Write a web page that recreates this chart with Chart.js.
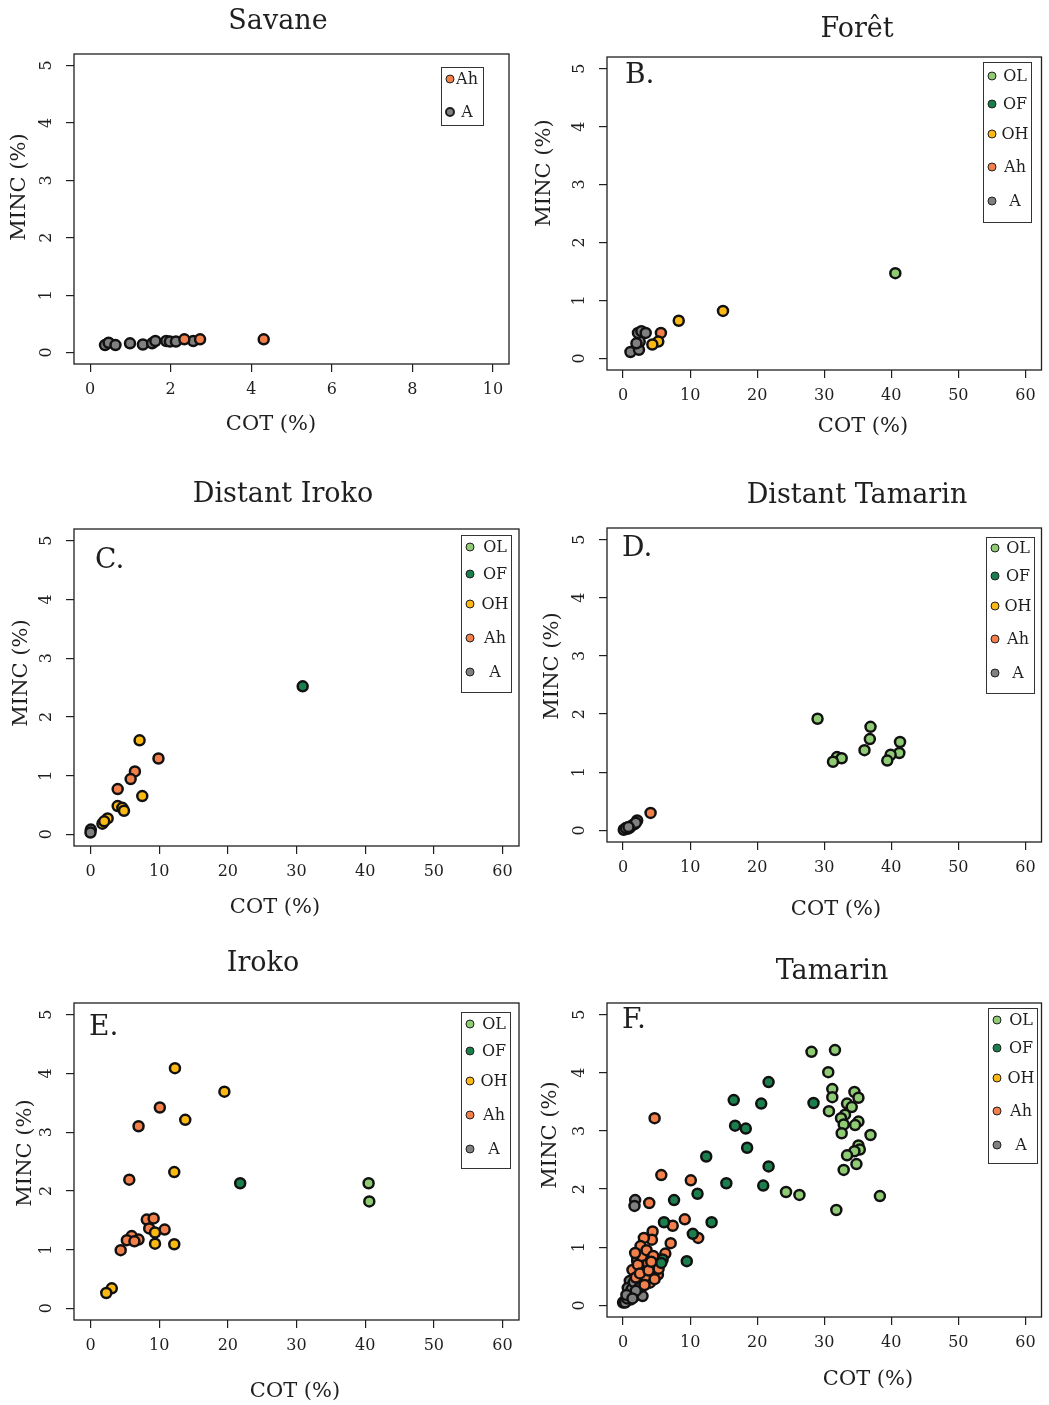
<!DOCTYPE html>
<html>
<head>
<meta charset="utf-8">
<script src="https://cdn.jsdelivr.net/npm/chart.js@4.4.0/dist/chart.umd.min.js"></script>
<style>
  body { margin: 0; background: #fff; }
  #wrap { position: relative; width: 1049px; height: 1405px; }
  canvas { position: absolute; }
</style>
</head>
<body>
<div id="wrap"></div>
<script>
// horizons, legend order
const horizons = ['OL', 'OF', 'OH', 'Ah', 'A'];
const horizonColors = { OL: '#8fcb73', OF: '#1b7f4d', OH: '#fdb913', Ah: '#f3804a', A: '#808080' };

const yTicks = [0, 1, 2, 3, 4, 5];
const xTicksSavane = [0, 2, 4, 6, 8, 10];
const xTicksWide = [0, 10, 20, 30, 40, 50, 60];

// Savane
const savaneAhCot = [2.34, 2.73, 4.31];
const savaneAhMinc = [0.23, 0.23, 0.23];
const savaneACot = [0.37, 0.46, 0.63, 0.99, 1.31, 1.54, 1.62, 1.89, 1.98, 2.13, 2.56];
const savaneAMinc = [0.13, 0.17, 0.13, 0.16, 0.14, 0.16, 0.2, 0.2, 0.19, 0.19, 0.2];

// Forêt
const foretOLCot = [40.6];
const foretOLMinc = [1.47];
const foretOHCot = [14.9, 8.3, 5.25, 4.36];
const foretOHMinc = [0.82, 0.65, 0.29, 0.24];
const foretAhCot = [5.64];
const foretAhMinc = [0.44];
const foretACot = [1.1, 2.37, 2.48, 2.22, 2.73, 3.37, 1.99];
const foretAMinc = [0.11, 0.15, 0.29, 0.44, 0.47, 0.44, 0.26];

// Distant Iroko
const dIrokoOFCot = [30.9];
const dIrokoOFMinc = [2.52];
const dIrokoOHCot = [7.15, 7.54, 3.96, 4.64, 4.88, 2.5, 1.74, 2.0];
const dIrokoOHMinc = [1.6, 0.65, 0.48, 0.45, 0.4, 0.27, 0.18, 0.22];
const dIrokoAhCot = [9.9, 6.47, 5.85, 3.96];
const dIrokoAhMinc = [1.29, 1.07, 0.94, 0.77];
const dIrokoACot = [0.05, 0.0];
const dIrokoAMinc = [0.08, 0.03];

// Distant Tamarin
const dTamOLCot = [29.0, 36.9, 36.8, 41.3, 36.0, 41.2, 39.9, 39.4, 31.9, 32.6, 31.3];
const dTamOLMinc = [1.92, 1.78, 1.57, 1.52, 1.38, 1.33, 1.3, 1.2, 1.26, 1.24, 1.18];
const dTamAhCot = [4.1];
const dTamAhMinc = [0.3];
const dTamACot = [0.1, 1.0, 2.1, 1.7, 0.75, 0.4, 1.4, 1.9, 0.8];
const dTamAMinc = [0.01, 0.05, 0.17, 0.11, 0.03, 0.04, 0.09, 0.13, 0.06];

// Iroko
const irokoOLCot = [40.5, 40.6];
const irokoOLMinc = [2.13, 1.82];
const irokoOFCot = [21.8];
const irokoOFMinc = [2.13];
const irokoOHCot = [12.3, 19.5, 13.8, 12.2, 9.4, 9.4, 12.2, 3.1, 2.3];
const irokoOHMinc = [4.09, 3.69, 3.21, 2.32, 1.29, 1.1, 1.09, 0.34, 0.26];
const irokoAhCot = [10.1, 7.0, 5.65, 8.2, 9.2, 8.55, 10.8, 6.0, 5.3, 7.0, 6.4, 4.4];
const irokoAhMinc = [3.42, 3.1, 2.19, 1.51, 1.53, 1.36, 1.34, 1.23, 1.16, 1.17, 1.14, 0.99];

// Tamarin
const tamOLCot = [28.1, 31.6, 30.6, 31.2, 31.2, 34.5, 35.1, 33.4, 34.1, 30.7, 33.1, 32.5, 32.9, 35.1,
  34.6, 36.9, 32.6, 35.1, 35.3, 34.5, 33.4, 34.8, 32.9, 24.3, 26.3, 38.3, 31.8];
const tamOLMinc = [4.36, 4.39, 4.01, 3.72, 3.58, 3.67, 3.57, 3.47, 3.41, 3.34, 3.28, 3.22, 3.11, 3.16,
  3.1, 2.93, 2.96, 2.75, 2.68, 2.65, 2.58, 2.43, 2.33, 1.95, 1.9, 1.88, 1.64];
const tamOFCot = [21.7, 16.5, 20.6, 28.4, 16.7, 18.3, 18.5, 12.4, 21.7, 15.4, 20.9, 11.1, 7.6, 13.2,
  6.1, 10.4, 9.5, 5.9, 5.7];
const tamOFMinc = [3.84, 3.53, 3.47, 3.48, 3.09, 3.04, 2.71, 2.56, 2.39, 2.1, 2.06, 1.92, 1.81, 1.43,
  1.43, 1.23, 0.76, 0.79, 0.73];
const tamAhCot = [4.7, 5.7, 10.1, 3.9, 9.2, 7.4, 11.2, 7.1, 6.3, 4.4, 4.3, 3.1, 2.6, 2.1, 3.7, 4.8,
  5.2, 4.0, 1.4, 3.0, 3.4, 4.7, 5.3, 2.2, 1.9, 2.8, 3.5, 4.5, 2.5, 3.8, 4.2, 1.8, 3.2];
const tamAhMinc = [3.22, 2.24, 2.15, 1.76, 1.48, 1.37, 1.16, 1.07, 0.89, 1.27, 1.13, 1.16, 1.02, 0.79,
  0.73, 0.66, 0.53, 0.39, 0.61, 0.55, 0.5, 0.45, 0.63, 0.7, 0.48, 0.85, 0.95, 0.85, 0.55, 0.6, 0.75,
  0.9, 0.35];
const tamACot = [1.8, 1.7, 3.2, 2.1, 1.0, 1.5, 2.2, 1.7, 0.7, 0.2, 0.0, 1.1, 2.5, 1.2, 2.0, 2.9,
  0.3, 0.6, 0.9, 1.3, 1.6, 2.4, 1.9, 0.5, 1.4];
const tamAMinc = [1.81, 1.71, 0.86, 0.76, 0.42, 0.33, 0.32, 0.16, 0.3, 0.07, 0.05, 0.1, 0.19, 0.22, 0.56, 0.16,
  0.05, 0.12, 0.2, 0.28, 0.4, 0.3, 0.25, 0.18, 0.12];

const FONT = "'DejaVu Serif', serif";
const INK = '#1f1f1f';

const panels = [
  { cx: 0, cy: 0, cw: 530, ch: 455, box: [74, 54, 509, 364], xTicks: xTicksSavane,
    title: 'Savane', titlePos: [278, 22], letter: null, xlab: [271, 425], ylab: [20, 187],
    legend: { x: 441, y: 67, w: 42, h: 58, rows: [79, 112] },
    series: [['Ah', savaneAhCot, savaneAhMinc], ['A', savaneACot, savaneAMinc]] },
  { cx: 530, cy: 0, cw: 519, ch: 455, box: [607, 57, 1044, 370], xTicks: xTicksWide,
    title: 'Forêt', titlePos: [857, 30], letter: ['B.', 625, 76], xlab: [863, 427], ylab: [545, 173],
    legend: { x: 983, y: 62, w: 48, h: 160, rows: [76, 104, 134, 167, 201] },
    series: [['OL', foretOLCot, foretOLMinc], ['OF', [], []], ['OH', foretOHCot, foretOHMinc],
      ['Ah', foretAhCot, foretAhMinc], ['A', foretACot, foretAMinc]] },
  { cx: 0, cy: 455, cw: 530, ch: 475, box: [74, 529, 519, 846], xTicks: xTicksWide,
    title: 'Distant Iroko', titlePos: [283, 495], letter: ['C.', 95, 561], xlab: [275, 908], ylab: [22, 673],
    legend: { x: 461, y: 535, w: 50, h: 157, rows: [547, 574, 604, 638, 672] },
    series: [['OL', [], []], ['OF', dIrokoOFCot, dIrokoOFMinc], ['OH', dIrokoOHCot, dIrokoOHMinc],
      ['Ah', dIrokoAhCot, dIrokoAhMinc], ['A', dIrokoACot, dIrokoAMinc]] },
  { cx: 530, cy: 455, cw: 519, ch: 475, box: [607, 528, 1044, 842], xTicks: xTicksWide,
    title: 'Distant Tamarin', titlePos: [857, 496], letter: ['D.', 622, 549], xlab: [836, 910], ylab: [553, 666],
    legend: { x: 986, y: 537, w: 48, h: 156, rows: [548, 576, 606, 639, 673] },
    series: [['OL', dTamOLCot, dTamOLMinc], ['OF', [], []], ['OH', [], []],
      ['Ah', dTamAhCot, dTamAhMinc], ['A', dTamACot, dTamAMinc]] },
  { cx: 0, cy: 930, cw: 530, ch: 475, box: [74, 1003, 519, 1320], xTicks: xTicksWide,
    title: 'Iroko', titlePos: [263, 964], letter: ['E.', 89, 1028], xlab: [295, 1392], ylab: [26, 1153],
    legend: { x: 461, y: 1012, w: 49, h: 156, rows: [1024, 1051, 1081, 1115, 1149] },
    series: [['OL', irokoOLCot, irokoOLMinc], ['OF', irokoOFCot, irokoOFMinc], ['OH', irokoOHCot, irokoOHMinc],
      ['Ah', irokoAhCot, irokoAhMinc], ['A', [], []]] },
  { cx: 530, cy: 930, cw: 519, ch: 475, box: [607, 1003, 1044, 1317], xTicks: xTicksWide,
    title: 'Tamarin', titlePos: [832, 972], letter: ['F.', 622, 1021], xlab: [868, 1380], ylab: [551, 1135],
    legend: { x: 988, y: 1008, w: 49, h: 155, rows: [1020, 1048, 1078, 1111, 1145] },
    series: [['OL', tamOLCot, tamOLMinc], ['OF', tamOFCot, tamOFMinc], ['OH', [], []],
      ['Ah', tamAhCot, tamAhMinc], ['A', tamACot, tamAMinc]] }
];

function makeFrame(p) {
  return {
    id: 'rFrame',
    afterDraw(chart) {
      const ctx = chart.ctx;
      const a = chart.chartArea;
      const ys = chart.scales.y;
      const ox = p.cx, oy = p.cy;
      ctx.save();
      ctx.strokeStyle = INK;
      ctx.lineWidth = 1.3;
      ctx.strokeRect(a.left, a.top, a.right - a.left, a.bottom - a.top);

      ctx.fillStyle = INK;
      ctx.textAlign = 'center';
      ctx.textBaseline = 'middle';
      ctx.font = '16px ' + FONT;
      yTicks.forEach(v => {
        ctx.save();
        ctx.translate(a.left - 27, ys.getPixelForValue(v));
        ctx.rotate(-Math.PI / 2);
        ctx.fillText(String(v), 0, 0);
        ctx.restore();
      });

      ctx.font = '21px ' + FONT;
      ctx.fillText('COT (%)', p.xlab[0] - ox, p.xlab[1] - oy);
      ctx.save();
      ctx.translate(p.ylab[0] - ox, p.ylab[1] - oy);
      ctx.rotate(-Math.PI / 2);
      ctx.fillText('MINC (%)', 0, 0);
      ctx.restore();

      ctx.font = '27px ' + FONT;
      ctx.fillText(p.title, p.titlePos[0] - ox, p.titlePos[1] - oy);

      if (p.letter) {
        ctx.textAlign = 'left';
        ctx.font = '28px ' + FONT;
        ctx.fillText(p.letter[0], p.letter[1] - ox, p.letter[2] - oy);
      }

      // legend
      const lg = p.legend;
      ctx.lineWidth = 1;
      ctx.strokeStyle = '#333';
      ctx.strokeRect(lg.x - ox + 0.5, lg.y - oy + 0.5, lg.w, lg.h);
      ctx.font = '16px ' + FONT;
      ctx.textAlign = 'center';
      p.series.forEach((s, i) => {
        const ly = lg.rows[i] - oy;
        ctx.beginPath();
        ctx.arc(lg.x - ox + 9, ly, 4, 0, Math.PI * 2);
        ctx.fillStyle = horizonColors[s[0]];
        ctx.fill();
        ctx.lineWidth = p.series.length === 2 && s[0] === 'A' ? 2 : 1;
        ctx.strokeStyle = INK;
        ctx.stroke();
        ctx.fillStyle = INK;
        ctx.fillText(s[0], lg.x - ox + lg.w - 16, ly + 1);
      });
      ctx.restore();
    }
  };
}

const wrap = document.getElementById('wrap');
panels.forEach(p => {
  const canvas = document.createElement('canvas');
  canvas.width = p.cw;
  canvas.height = p.ch;
  canvas.style.left = p.cx + 'px';
  canvas.style.top = p.cy + 'px';
  wrap.appendChild(canvas);

  const xMax = p.xTicks[p.xTicks.length - 1];
  const datasets = p.series.map(s => ({
    label: s[0],
    data: s[1].map((v, i) => ({ x: v, y: s[2][i] })),
    backgroundColor: horizonColors[s[0]],
    borderColor: '#111',
    borderWidth: 2.5,
    pointRadius: 5,
    pointHoverRadius: 5
  }));

  new Chart(canvas.getContext('2d'), {
    type: 'scatter',
    data: { datasets: datasets },
    options: {
      responsive: false,
      animation: false,
      devicePixelRatio: 1,
      layout: { padding: { top: p.box[1] - p.cy, right: p.cx + p.cw - p.box[2], left: 0, bottom: 0 } },
      plugins: { legend: { display: false }, tooltip: { enabled: false } },
      scales: {
        x: {
          type: 'linear',
          min: -0.04 * xMax,
          max: 1.04 * xMax,
          afterBuildTicks: s => { s.ticks = p.xTicks.map(v => ({ value: v })); },
          afterFit: s => { s.height = p.cy + p.ch - p.box[3]; },
          grid: { drawOnChartArea: false, drawTicks: true, tickLength: 8, color: INK, lineWidth: 1.2 },
          border: { display: false },
          ticks: { autoSkip: false, maxRotation: 0, padding: 8, color: INK, font: { family: FONT, size: 16 } }
        },
        y: {
          type: 'linear',
          min: -0.2,
          max: 5.2,
          afterBuildTicks: s => { s.ticks = yTicks.map(v => ({ value: v })); },
          afterFit: s => { s.width = p.box[0] - p.cx; },
          grid: { drawOnChartArea: false, drawTicks: true, tickLength: 8, color: INK, lineWidth: 1.2 },
          border: { display: false },
          ticks: { display: false }
        }
      }
    },
    plugins: [makeFrame(p)]
  });
});
</script>
</body>
</html>
